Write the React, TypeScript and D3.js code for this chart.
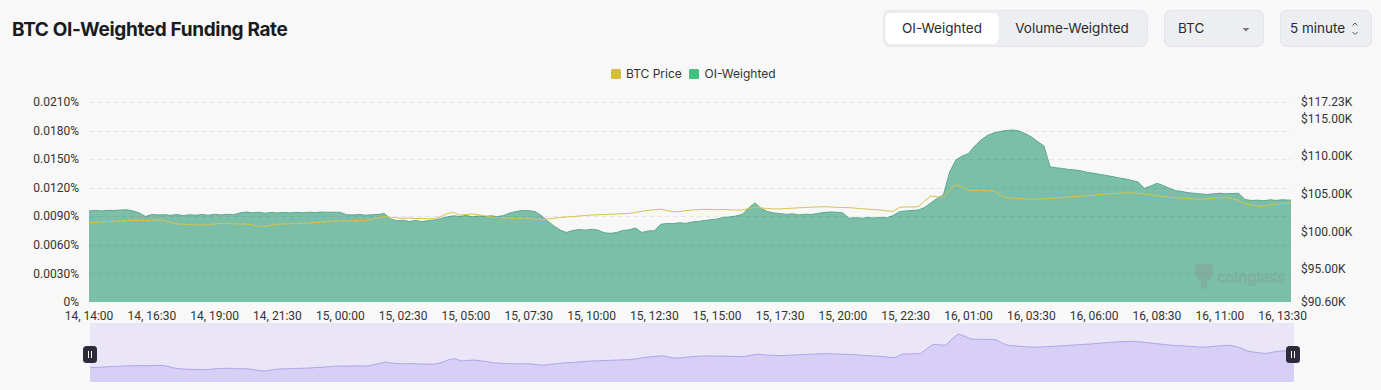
import React from "react";
import * as d3 from "d3";

const W = 1381;
const H = 390;

// x axis: 5-minute chart, 14 Jul 14:00 -> 16 Jul 13:50, labels every 150 minutes
const xTickLabels = [
  "14, 14:00", "14, 16:30", "14, 19:00", "14, 21:30", "15, 00:00", "15, 02:30", "15, 05:00",
  "15, 07:30", "15, 10:00", "15, 12:30", "15, 15:00", "15, 17:30", "15, 20:00", "15, 22:30",
  "16, 01:00", "16, 03:30", "16, 06:00", "16, 08:30", "16, 11:00", "16, 13:30",
];
const TICK_STEP_MIN = 150;
const SAMPLE_STEP_MIN = 15;
const TOTAL_MIN = 2870;

const leftTicks = [0, 0.003, 0.006, 0.009, 0.012, 0.015, 0.018, 0.021];
const leftTickLabels = ["0%", "0.0030%", "0.0060%", "0.0090%", "0.0120%", "0.0150%", "0.0180%", "0.0210%"];
const rightTicks = [90.6, 95, 100, 105, 110, 115, 117.23];
const rightTickLabels = ["$90.60K", "$95.00K", "$100.00K", "$105.00K", "$110.00K", "$115.00K", "$117.23K"];

// OI-weighted funding rate (%), sampled every 15 minutes
const fundingRate = [
  0.00956, 0.00961, 0.00956, 0.00963, 0.00961, 0.00966, 0.00968, 0.00956, 0.00935, 0.00898,
  0.00919, 0.00914, 0.00917, 0.00910, 0.00918, 0.00908, 0.00916, 0.00911, 0.00919, 0.00911,
  0.00921, 0.00914, 0.00921, 0.00916, 0.00935, 0.00945, 0.00937, 0.00942, 0.00932, 0.00940,
  0.00935, 0.00941, 0.00935, 0.00942, 0.00937, 0.00943, 0.00939, 0.00945, 0.00942, 0.00943,
  0.00941, 0.00916, 0.00914, 0.00920, 0.00911, 0.00916, 0.00919, 0.00929, 0.00872, 0.00851,
  0.00858, 0.00845, 0.00856, 0.00842, 0.00855, 0.00861, 0.00877, 0.00893, 0.00905, 0.00898,
  0.00908, 0.00895, 0.00903, 0.00897, 0.00905, 0.00896, 0.00908, 0.00935, 0.00950, 0.00961,
  0.00958, 0.00950, 0.00908, 0.00851, 0.00798, 0.00756, 0.00730, 0.00751, 0.00761, 0.00754,
  0.00764, 0.00756, 0.00727, 0.00721, 0.00730, 0.00751, 0.00758, 0.00777, 0.00730, 0.00746,
  0.00748, 0.00816, 0.00824, 0.00823, 0.00832, 0.00826, 0.00840, 0.00846, 0.00855, 0.00864,
  0.00872, 0.00888, 0.00893, 0.00903, 0.00921, 0.00987, 0.01040, 0.00982, 0.00950, 0.00935,
  0.00929, 0.00919, 0.00926, 0.00914, 0.00922, 0.00919, 0.00930, 0.00940, 0.00945, 0.00943,
  0.00935, 0.00879, 0.00886, 0.00879, 0.00887, 0.00882, 0.00888, 0.00884, 0.00908, 0.00948,
  0.00956, 0.00961, 0.00966, 0.00992, 0.01040, 0.01087, 0.01124, 0.01365, 0.01491, 0.01533,
  0.01559, 0.01638, 0.01701, 0.01748, 0.01775, 0.01790, 0.01801, 0.01806, 0.01796, 0.01769,
  0.01733, 0.01685, 0.01638, 0.01418, 0.01409, 0.01402, 0.01391, 0.01386, 0.01376, 0.01360,
  0.01351, 0.01339, 0.01328, 0.01316, 0.01302, 0.01292, 0.01276, 0.01260, 0.01194, 0.01218,
  0.01246, 0.01223, 0.01192, 0.01169, 0.01160, 0.01147, 0.01141, 0.01134, 0.01129, 0.01136,
  0.01142, 0.01136, 0.01139, 0.01141, 0.01076, 0.01066, 0.01069, 0.01063, 0.01073, 0.01067,
  0.01074, 0.01069, 0.01071,
];

// BTC price (thousand USD), same sampling
const btcPrice = [
  101.16, 101.20, 101.25, 101.31, 101.36, 101.39, 101.44, 101.45, 101.48, 101.44,
  101.49, 101.52, 101.45, 101.19, 101.01, 100.96, 100.91, 100.88, 100.85, 100.91,
  100.99, 101.05, 101.07, 101.01, 100.99, 100.99, 100.85, 100.69, 100.67, 100.85,
  100.96, 100.99, 101.01, 101.05, 101.08, 101.12, 101.19, 101.25, 101.31, 101.39,
  101.41, 101.39, 101.44, 101.41, 101.43, 101.59, 101.79, 102.02, 101.85, 101.79,
  101.74, 101.79, 101.71, 101.73, 101.69, 101.72, 101.98, 102.38, 102.52, 102.18,
  102.25, 102.32, 102.21, 102.08, 101.92, 101.85, 101.79, 101.76, 101.74, 101.76,
  101.74, 101.63, 101.52, 101.65, 101.76, 101.85, 101.92, 101.98, 102.05, 102.12,
  102.18, 102.22, 102.25, 102.29, 102.32, 102.36, 102.40, 102.52, 102.68, 102.80,
  102.88, 102.96, 102.78, 102.61, 102.65, 102.77, 102.85, 102.90, 102.94, 102.92,
  102.89, 102.92, 102.88, 102.85, 102.85, 103.05, 103.21, 103.12, 103.04, 103.01,
  102.98, 103.04, 103.09, 103.14, 103.18, 103.22, 103.26, 103.29, 103.25, 103.21,
  103.18, 103.16, 103.09, 103.02, 102.96, 102.90, 102.85, 102.72, 102.69, 103.21,
  103.25, 103.25, 103.29, 104.05, 104.71, 104.61, 104.58, 105.51, 106.25, 105.91,
  105.51, 105.45, 105.47, 105.43, 105.38, 104.85, 104.51, 104.45, 104.38, 104.31,
  104.27, 104.29, 104.34, 104.39, 104.45, 104.51, 104.58, 104.62, 104.69, 104.75,
  104.83, 104.91, 104.98, 105.06, 105.10, 105.13, 105.15, 105.07, 104.95, 104.85,
  104.74, 104.63, 104.55, 104.50, 104.45, 104.38, 104.31, 104.27, 104.34, 104.42,
  104.50, 104.54, 104.38, 104.11, 103.65, 103.52, 103.38, 103.32, 103.52, 103.65,
  103.72, 103.78, 103.82,
];

const PLOT = { left: 89, right: 1291, top: 102, bottom: 302 };
const BRUSH = { left: 90, right: 1294, top: 323, bottom: 382 };

const AXIS_FONT = "Roboto, 'Noto Sans', sans-serif";
const UI_FONT = "Inter, 'Noto Sans', sans-serif";

export default function App() {
  const times = fundingRate.map((_, i) => Math.min(i * SAMPLE_STEP_MIN, TOTAL_MIN));

  const x = d3.scaleLinear().domain([0, TOTAL_MIN]).range([PLOT.left, PLOT.right]);
  const yL = d3.scaleLinear().domain([0, 0.021]).range([PLOT.bottom, PLOT.top]);
  const yR = d3.scaleLinear().domain([90.6, 117.23]).range([PLOT.bottom, PLOT.top]);

  const fundArea = d3
    .area<number>()
    .x((_, i) => x(times[i]))
    .y0(PLOT.bottom)
    .y1((d) => yL(d))(fundingRate) as string;
  const fundLine = d3
    .line<number>()
    .x((_, i) => x(times[i]))
    .y((d) => yL(d))(fundingRate) as string;
  const priceLine = d3
    .line<number>()
    .x((_, i) => x(times[i]))
    .y((d) => yR(d))(btcPrice) as string;

  // slider shadow (data zoom)
  const [pMin, pMax] = d3.extent(btcPrice) as [number, number];
  const pad = (pMax - pMin) * 0.3;
  const bx = d3.scaleLinear().domain([0, TOTAL_MIN]).range([BRUSH.left, BRUSH.right]);
  const by = d3.scaleLinear().domain([pMin - pad, pMax + pad]).range([BRUSH.bottom, BRUSH.top]);
  const brushArea = d3
    .area<number>()
    .x((_, i) => bx(times[i]))
    .y0(BRUSH.bottom)
    .y1((d) => by(d))(btcPrice) as string;
  const brushLine = d3
    .line<number>()
    .x((_, i) => bx(times[i]))
    .y((d) => by(d))(btcPrice) as string;

  const handle = (cx: number) => (
    <g key={cx}>
      <rect x={cx - 7} y={346} width={14} height={17} rx={3.5} fill="#2c2c3a" />
      <line x1={cx - 1.5} x2={cx - 1.5} y1={351} y2={358} stroke="#ffffff" strokeWidth={1} />
      <line x1={cx + 1.5} x2={cx + 1.5} y1={351} y2={358} stroke="#ffffff" strokeWidth={1} />
    </g>
  );

  return (
    <svg
      width={W}
      height={H}
      style={{ position: "absolute", left: 0, top: 0, display: "block" }}
      xmlns="http://www.w3.org/2000/svg"
    >
      <defs>
        <clipPath id="plotClip">
          <rect x={PLOT.left} y={PLOT.top - 10} width={PLOT.right - PLOT.left} height={PLOT.bottom - PLOT.top + 10} />
        </clipPath>
      </defs>
      <rect x={0} y={0} width={W} height={H} fill="#f8f8f8" />

      {/* Title */}
      <text
        x={12}
        y={36}
        fontFamily={UI_FONT}
        fontWeight={700}
        fontSize={19}
        letterSpacing={-0.35}
        fill="#1b1b1f"
      >
        BTC OI-Weighted Funding Rate
      </text>

      {/* Segmented control */}
      <rect x={883.5} y={10.5} width={264} height={36} rx={7} fill="#eceef2" stroke="#e4e6ea" />
      <rect x={885.5} y={13} width={113} height={31} rx={5} fill="#ffffff" />
      <text x={942} y={33} textAnchor="middle" fontFamily={UI_FONT} fontSize={13.5} fill="#2a2a2e">
        OI-Weighted
      </text>
      <text x={1072} y={33} textAnchor="middle" fontFamily={UI_FONT} fontSize={13.5} fill="#2a2a2e">
        Volume-Weighted
      </text>

      {/* Coin select */}
      <rect x={1164.5} y={10.5} width={99} height={36} rx={6} fill="#eceef2" stroke="#e2e4e8" />
      <text x={1178} y={33} fontFamily={UI_FONT} fontSize={13.5} fill="#2a2a2e">
        BTC
      </text>
      <path d="M1242.5,28 L1249.5,28 L1246,31.5 Z" fill="#777" />

      {/* Interval select */}
      <rect x={1280.5} y={10.5} width={91} height={36} rx={6} fill="#eceef2" stroke="#e2e4e8" />
      <text x={1290} y={33} fontFamily={UI_FONT} fontSize={13.5} fill="#2a2a2e">
        5 minute
      </text>
      <path d="M1352.5,25.5 L1355,23 L1357.5,25.5" fill="none" stroke="#555" strokeWidth={1} />
      <path d="M1352.5,32 L1355,34.5 L1357.5,32" fill="none" stroke="#555" strokeWidth={1} />

      {/* Legend */}
      <rect x={611} y={69} width={10} height={10} rx={1.5} fill="#d4bd3c" />
      <text x={626} y={78} fontFamily={UI_FONT} fontSize={12} fill="#333">
        BTC Price
      </text>
      <rect x={689} y={69} width={10} height={10} rx={1.5} fill="#3fc27b" />
      <text x={704.5} y={78} fontFamily={UI_FONT} fontSize={12} fill="#333">
        OI-Weighted
      </text>

      {/* Funding area */}
      <path d={fundArea} fill="#7cbfa8" />
      <path d={fundLine} fill="none" stroke="#5aa98a" strokeWidth={1} />

      {/* Grid lines */}
      {leftTicks.map((t) => (
        <line
          key={t}
          x1={PLOT.left}
          x2={PLOT.right}
          y1={Math.round(yL(t)) + 0.5}
          y2={Math.round(yL(t)) + 0.5}
          stroke={t === 0 ? "none" : "rgba(0,0,0,0.07)"}
          strokeDasharray="5 3"
        />
      ))}

      {/* BTC price line */}
      <path d={priceLine} fill="none" stroke="#d8c24a" strokeWidth={1} />

      {/* Watermark */}
      <g opacity={0.28} fill="#8a8a8a" clipPath="url(#plotClip)">
        <path d="M1195,265 Q1204,262 1213,265 L1213,272 Q1212,279 1207,281 L1207,288 Q1204,290 1201,288 L1201,281 Q1196,279 1195,272 Z" />
        <text x={1217} y={283} fontFamily={UI_FONT} fontWeight={700} fontSize={15} letterSpacing={-0.3}>
          coinglass
        </text>
      </g>

      {/* Left axis labels */}
      {leftTicks.map((t, i) => (
        <text
          key={t}
          x={79}
          y={yL(t)}
          dy="0.35em"
          textAnchor="end"
          fontFamily={AXIS_FONT}
          fontSize={12}
          fill="#333"
        >
          {leftTickLabels[i]}
        </text>
      ))}

      {/* Right axis labels */}
      {rightTicks.map((t, i) => (
        <text
          key={t}
          x={1301}
          y={yR(t)}
          dy="0.35em"
          fontFamily={AXIS_FONT}
          fontSize={12}
          fill="#333"
        >
          {rightTickLabels[i]}
        </text>
      ))}

      {/* X axis labels */}
      {xTickLabels.map((lab, i) => (
        <text
          key={lab}
          x={x(i * TICK_STEP_MIN)}
          y={320}
          textAnchor="middle"
          fontFamily={AXIS_FONT}
          fontSize={12}
          fill="#333"
        >
          {lab}
        </text>
      ))}

      {/* Data zoom slider */}
      <rect
        x={BRUSH.left}
        y={BRUSH.top}
        width={BRUSH.right - BRUSH.left}
        height={BRUSH.bottom - BRUSH.top}
        fill="#ebe5f8"
      />
      <path d={brushArea} fill="#d7cff5" />
      <path d={brushLine} fill="none" stroke="#b0a5e8" strokeWidth={1} />
      {handle(BRUSH.left)}
      {handle(BRUSH.right - 1)}
    </svg>
  );
}
